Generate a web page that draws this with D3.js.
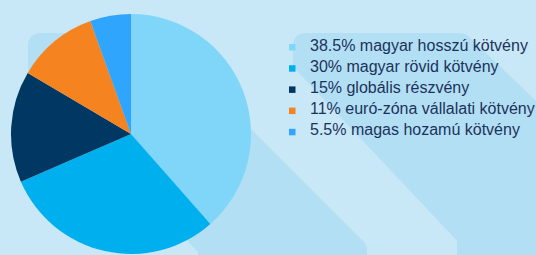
<!DOCTYPE html>
<html>
<head>
<meta charset="utf-8">
<script src="https://cdn.jsdelivr.net/npm/d3@7"></script>
<style>
  html, body { margin: 0; padding: 0; background: #c9e8f7; }
  svg { display: block; }
</style>
</head>
<body>
<div id="chart"></div>
<script>
// size of the picture
var width = 536;
var height = 255;

// data
var labels = ["magyar hosszú kötvény", "magyar rövid kötvény", "globális részvény", "euró-zóna vállalati kötvény", "magas hozamú kötvény"];
var shares = [38.5, 30, 15, 11, 5.5];
var shareLabels = ["38.5%", "30%", "15%", "11%", "5.5%"];
var colors = ["#80d6f8", "#00b0ee", "#003763", "#f58420", "#2fa5fe"];

var bgColor = "#c9e8f7";
var stripeColor = "#b3dff4";
var textColor = "#1b335b";

var svg = d3.select("#chart")
  .append("svg")
  .attr("width", width)
  .attr("height", height);

svg.append("rect")
  .attr("width", width)
  .attr("height", height)
  .attr("fill", bgColor);

// decorative diagonal stripes in the background (rounded corners via stroke join)
var stripes = [
  [[40, 45], [150, 45], [355, 250], [355, 280], [210, 280], [210, 247], [40, 75]],
  [[305, 45], [460, 45], [560, 140], [560, 280], [469, 280], [469, 236], [305, 62]]
];
svg.selectAll("path.stripe")
  .data(stripes)
  .enter()
  .append("path")
  .attr("class", "stripe")
  .attr("d", function(d) { return "M" + d.join("L") + "Z"; })
  .attr("fill", stripeColor)
  .attr("stroke", stripeColor)
  .attr("stroke-width", 24)
  .attr("stroke-linejoin", "round");

// pie
var cx = 131, cy = 134, radius = 120;

var pie = d3.pie()
  .sort(null)
  .value(function(d) { return d; });

var arc = d3.arc()
  .innerRadius(0)
  .outerRadius(radius);

svg.append("g")
  .attr("transform", "translate(" + cx + "," + cy + ")")
  .selectAll("path")
  .data(pie(shares))
  .enter()
  .append("path")
  .attr("d", arc)
  .attr("fill", function(d, i) { return colors[i]; });

// legend
var legendX = 289;
var textX = 310;
var firstBaseline = 50.5;
var rowStep = 21.2;

var legend = svg.append("g").attr("class", "legend");

var rows = legend.selectAll("g")
  .data(labels)
  .enter()
  .append("g")
  .attr("transform", function(d, i) { return "translate(0," + (firstBaseline + i * rowStep) + ")"; });

rows.append("rect")
  .attr("x", legendX)
  .attr("y", -6.5)
  .attr("width", 6.5)
  .attr("height", 6.5)
  .attr("fill", function(d, i) { return colors[i]; });

rows.append("text")
  .attr("x", textX)
  .attr("y", 0)
  .attr("fill", textColor)
  .style("font-family", "'Liberation Sans', Arial, sans-serif")
  .style("font-size", "16px")
  .text(function(d, i) { return shareLabels[i] + " " + d; });
</script>
</body>
</html>
